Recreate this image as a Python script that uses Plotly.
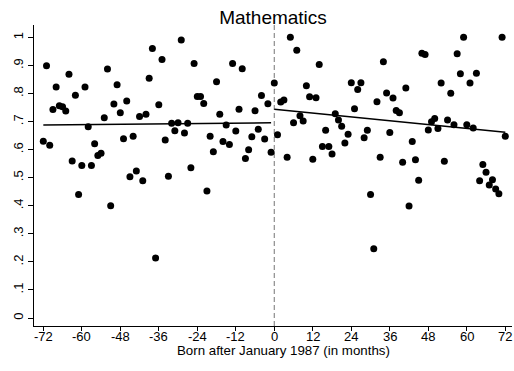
import plotly.graph_objects as go

# Data
months_left = list(range(-72, 0))
scores_left = [0.630, 0.899, 0.616, 0.743, 0.824, 0.757, 0.753, 0.738, 0.869, 0.560,
               0.794, 0.440, 0.544, 0.824, 0.682, 0.544, 0.621, 0.579, 0.587, 0.714,
               0.888, 0.400, 0.763, 0.832, 0.732, 0.639, 0.774, 0.504, 0.648, 0.524,
               0.718, 0.489, 0.726, 0.855, 0.961, 0.214, 0.760, 0.922, 0.635, 0.505,
               0.694, 0.668, 0.696, 0.991, 0.660, 0.694, 0.536, 0.907, 0.790, 0.790,
               0.765, 0.453, 0.648, 0.593, 0.842, 0.726, 0.629, 0.688, 0.619, 0.907,
               0.667, 0.744, 0.889, 0.569, 0.600, 0.646, 0.739, 0.673, 0.793, 0.638,
               0.764, 0.591]
months_right = list(range(0, 73))
scores_right = [0.838, 0.653, 0.770, 0.777, 0.573, 1.001, 0.696, 0.955, 0.721, 0.702,
                0.828, 0.789, 0.566, 0.785, 0.904, 0.611, 0.669, 0.611, 0.585, 0.728,
                0.706, 0.684, 0.624, 0.655, 0.839, 0.746, 0.815, 0.839, 0.643, 0.669,
                0.440, 0.247, 0.771, 0.573, 0.914, 0.802, 0.661, 0.784, 0.740, 0.732,
                0.555, 0.820, 0.399, 0.629, 0.564, 0.491, 0.944, 0.939, 0.670, 0.700,
                0.711, 0.676, 0.838, 0.559, 0.706, 0.801, 0.689, 0.942, 0.871, 1.001,
                0.689, 0.838, 0.677, 0.873, 0.489, 0.547, 0.520, 0.474, 0.493, 0.460,
                0.443, 1.001, 0.648]

fit_left_x = [-72, -1]
fit_left_y = [0.688, 0.696]
fit_right_x = [0, 72]
fit_right_y = [0.744, 0.662]

x_tickvals = [-72, -60, -48, -36, -24, -12, 0, 12, 24, 36, 48, 60, 72]
x_ticktext = ["-72", "-60", "-48", "-36", "-24", "-12", "0", "12", "24", "36", "48", "60", "72"]
y_tickvals = [0, 0.1, 0.2, 0.3, 0.4, 0.5, 0.6, 0.7, 0.8, 0.9, 1.0]
y_ticktext = ["0", ".1", ".2", ".3", ".4", ".5", ".6", ".7", ".8", ".9", "1"]

FONT = "Liberation Sans, Arial, sans-serif"
X_RANGE = [-74.9, 74.09]
Y_RANGE = [-0.0285, 1.0446]
PLOT_H = 371 - 25 - 45

fig = go.Figure()
fig.add_trace(go.Scatter(x=months_left + months_right, y=scores_left + scores_right,
                         mode="markers", marker=dict(color="black", size=7),
                         showlegend=False, hoverinfo="skip"))
fig.add_trace(go.Scatter(x=fit_left_x, y=fit_left_y, mode="lines",
                         line=dict(color="black", width=1.4), showlegend=False))
fig.add_trace(go.Scatter(x=fit_right_x, y=fit_right_y, mode="lines",
                         line=dict(color="black", width=1.4), showlegend=False))

fig.add_shape(type="line", xref="x", yref="paper", x0=0, x1=0, y0=0, y1=1,
              line=dict(color="#8c8c8c", width=1.2, dash="5px,3px"), layer="below")

# x tick labels placed at their data positions
for val, txt in zip(x_tickvals, x_ticktext):
    fig.add_annotation(text=txt, xref="x", yref="paper", x=val,
                       y=-(336 - 326) / PLOT_H, xanchor="center", yanchor="middle",
                       showarrow=False, font=dict(size=13, family=FONT, color="black"))

fig.add_annotation(text="Born after January 1987 (in months)", xref="paper", yref="paper",
                   x=(283 - 34) / 478, y=-(350 - 326) / PLOT_H, xanchor="center",
                   yanchor="middle", showarrow=False,
                   font=dict(size=13.3, family=FONT, color="black"))

fig.update_layout(
    width=514, height=371,
    margin=dict(l=34, r=2, t=25, b=45),
    paper_bgcolor="white", plot_bgcolor="white",
    font=dict(family=FONT, color="black", size=13),
    title=dict(text="Mathematics", x=0.5, xanchor="center", xref="paper",
               y=1 - 17 / 371, yanchor="middle", yref="container",
               font=dict(size=19, family=FONT, color="black")),
    xaxis=dict(range=X_RANGE, tickvals=x_tickvals, showticklabels=False,
               showgrid=False, zeroline=False,
               showline=True, linecolor="black", linewidth=1,
               ticks="outside", ticklen=4, tickcolor="black"),
    yaxis=dict(range=Y_RANGE, tickvals=y_tickvals, ticktext=y_ticktext,
               showgrid=False, zeroline=False, showline=True, linecolor="black",
               linewidth=1, ticks="outside", ticklen=5, tickcolor="black",
               tickangle=-90, tickfont=dict(size=13, family=FONT)),
)

fig.write_html("out.html")
